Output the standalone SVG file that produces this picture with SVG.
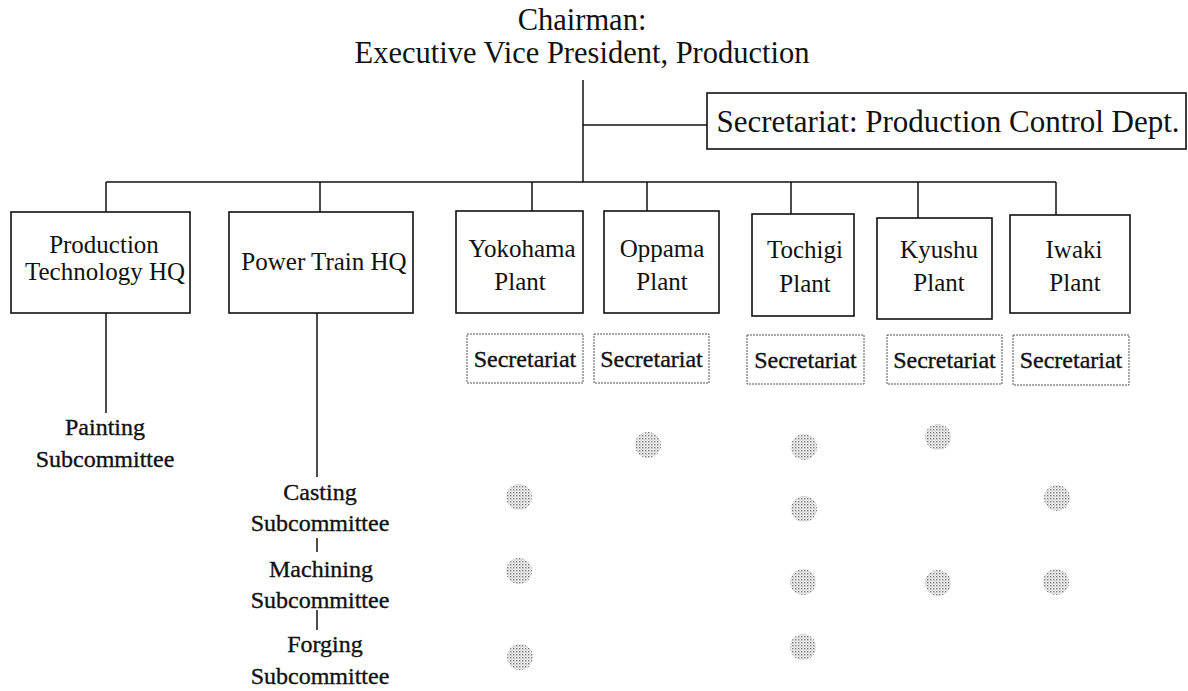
<svg xmlns="http://www.w3.org/2000/svg" width="1188" height="691" viewBox="0 0 1188 691">
  <defs>
    <!-- halftone dot screen used for the grey participation markers -->
    <pattern id="screen" width="3" height="3" patternUnits="userSpaceOnUse">
      <rect width="3" height="3" fill="#ffffff"/>
      <rect x="0" y="0" width="1.4" height="1.4" fill="#6f6f6f"/>
      <rect x="1.5" y="1.5" width="1.2" height="1.2" fill="#a8a8a8"/>
    </pattern>
    <style>
      .box { fill: #ffffff; stroke: #111111; stroke-width: 1.6; }
      .sec { fill: #ffffff; stroke: #555555; stroke-width: 1; stroke-dasharray: 2 1; }
      .link { fill: none; stroke: #111111; stroke-width: 1.5; }
      .t { font-family: "Liberation Serif", "Times New Roman", serif; fill: #111111; text-anchor: middle; }
      .title { font-size: 30.5px; }
      .lbl { font-size: 25px; }
      .small { font-size: 24px; stroke: #111111; stroke-width: 0.35; }
      .dot { fill: url(#screen); }
    </style>
  </defs>

  <rect width="1188" height="691" fill="#ffffff"/>

  <!-- connectors -->
  <g id="connectors" class="link">
    <path d="M583 80 V182"/>
    <path d="M583 125 H707"/>
    <path d="M106 182 H1056"/>
    <path d="M106 182 V212"/>
    <path d="M320 182 V212"/>
    <path d="M532 182 V211"/>
    <path d="M647 182 V211"/>
    <path d="M791 182 V214"/>
    <path d="M918 182 V218"/>
    <path d="M1056 182 V215"/>
    <path d="M106 313 V413"/>
    <path d="M317 313 V477"/>
    <path d="M317 538 V552"/>
    <path d="M317 610 V630"/>
  </g>

  <!-- chairman -->
  <g id="chairman">
    <text class="t title" x="582" y="30">Chairman:</text>
    <text class="t title" x="582" y="63">Executive Vice President, Production</text>
  </g>

  <g id="secretariat-main">
    <rect class="box" x="707" y="93" width="479" height="56"/>
    <text class="t" x="948" y="132" font-size="31">Secretariat: Production Control Dept.</text>
  </g>

  <!-- headquarters -->
  <g id="production-technology-hq">
    <rect class="box" x="11" y="212" width="179" height="101"/>
    <text class="t lbl" x="104" y="253">Production</text>
    <text class="t lbl" x="105" y="280">Technology HQ</text>
  </g>

  <g id="power-train-hq">
    <rect class="box" x="229" y="212" width="184" height="101"/>
    <text class="t lbl" x="324" y="270">Power Train HQ</text>
  </g>

  <!-- plants -->
  <g id="yokohama-plant">
    <rect class="box" x="456" y="211" width="127" height="102"/>
    <text class="t lbl" x="522" y="257">Yokohama</text>
    <text class="t lbl" x="520" y="290">Plant</text>
  </g>

  <g id="oppama-plant">
    <rect class="box" x="604" y="211" width="115" height="102"/>
    <text class="t lbl" x="662" y="257">Oppama</text>
    <text class="t lbl" x="662" y="290">Plant</text>
  </g>

  <g id="tochigi-plant">
    <rect class="box" x="752" y="214" width="102" height="102"/>
    <text class="t lbl" x="805" y="258">Tochigi</text>
    <text class="t lbl" x="805" y="292">Plant</text>
  </g>

  <g id="kyushu-plant">
    <rect class="box" x="877" y="218" width="115" height="101"/>
    <text class="t lbl" x="939" y="258">Kyushu</text>
    <text class="t lbl" x="939" y="291">Plant</text>
  </g>

  <g id="iwaki-plant">
    <rect class="box" x="1010" y="215" width="120" height="98"/>
    <text class="t lbl" x="1074" y="258">Iwaki</text>
    <text class="t lbl" x="1075" y="291">Plant</text>
  </g>

  <!-- plant secretariats -->
  <g id="sec-yokohama">
    <rect class="sec" x="467" y="334" width="116" height="49"/>
    <text class="t small" x="525" y="367">Secretariat</text>
  </g>
  <g id="sec-oppama">
    <rect class="sec" x="594" y="334" width="115" height="49"/>
    <text class="t small" x="651.5" y="367">Secretariat</text>
  </g>
  <g id="sec-tochigi">
    <rect class="sec" x="747" y="335" width="117" height="49"/>
    <text class="t small" x="805.5" y="368">Secretariat</text>
  </g>
  <g id="sec-kyushu">
    <rect class="sec" x="887" y="335" width="115" height="49"/>
    <text class="t small" x="944.5" y="368">Secretariat</text>
  </g>
  <g id="sec-iwaki">
    <rect class="sec" x="1013" y="335" width="116" height="50"/>
    <text class="t small" x="1071" y="368">Secretariat</text>
  </g>

  <!-- subcommittees -->
  <g id="painting-subcommittee">
    <text class="t small" x="105" y="435">Painting</text>
    <text class="t small" x="105" y="467">Subcommittee</text>
  </g>
  <g id="casting-subcommittee">
    <text class="t small" x="320" y="500">Casting</text>
    <text class="t small" x="320" y="531">Subcommittee</text>
  </g>
  <g id="machining-subcommittee">
    <text class="t small" x="321" y="577">Machining</text>
    <text class="t small" x="320" y="608">Subcommittee</text>
  </g>
  <g id="forging-subcommittee">
    <text class="t small" x="325" y="652">Forging</text>
    <text class="t small" x="320" y="684">Subcommittee</text>
  </g>

  <!-- participation markers -->
  <g id="markers" class="dot">
    <circle cx="648" cy="445" r="13"/>
    <circle cx="804" cy="447" r="13"/>
    <circle cx="938" cy="437" r="13"/>
    <circle cx="519" cy="497" r="13"/>
    <circle cx="804" cy="509" r="13"/>
    <circle cx="1057" cy="498" r="13"/>
    <circle cx="519" cy="571" r="13"/>
    <circle cx="803" cy="582" r="13"/>
    <circle cx="938" cy="583" r="13"/>
    <circle cx="1056" cy="582" r="13"/>
    <circle cx="520" cy="657" r="13"/>
    <circle cx="803" cy="647" r="13"/>
  </g>
</svg>
